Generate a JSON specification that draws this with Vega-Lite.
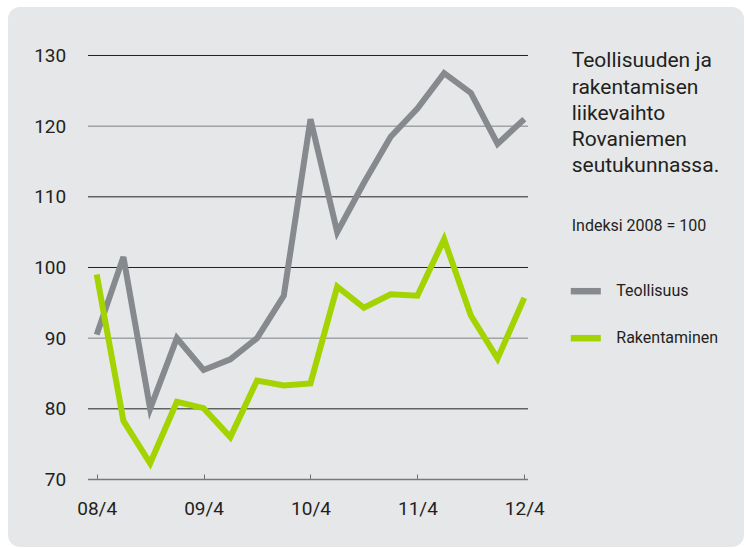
{
  "$schema": "https://vega.github.io/schema/vega-lite/v6.json",
  "width": 736,
  "height": 540,
  "autosize": {"type": "none"},
  "padding": {"left": 8, "top": 7, "right": 3, "bottom": 1},
  "background": "#ffffff",
  "config": {
    "view": {"fill": "#e6e7e9", "stroke": null, "cornerRadius": 12},
    "font": "Roboto, sans-serif"
  },
  "title": {
    "text": ["Teollisuuden ja", "rakentamisen", "liikevaihto", "Rovaniemen", "seutukunnassa."],
    "subtitle": "Indeksi 2008 = 100",
    "orient": "top",
    "anchor": "start",
    "frame": "group",
    "align": "left",
    "offset": 0,
    "dx": 563.7,
    "dy": 227,
    "fontSize": 21,
    "fontWeight": "normal",
    "color": "#231f20",
    "lineHeight": 26.3,
    "subtitleFontSize": 16,
    "subtitleColor": "#231f20",
    "subtitlePadding": 41.5
  },
  "datasets": {
    "sarjat": [
      {"q": 0, "kvartaali": "08/4", "sarja": "Teollisuus", "arvo": 90.5},
      {"q": 1, "kvartaali": "09/1", "sarja": "Teollisuus", "arvo": 101.5},
      {"q": 2, "kvartaali": "09/2", "sarja": "Teollisuus", "arvo": 80},
      {"q": 3, "kvartaali": "09/3", "sarja": "Teollisuus", "arvo": 90},
      {"q": 4, "kvartaali": "09/4", "sarja": "Teollisuus", "arvo": 85.5},
      {"q": 5, "kvartaali": "10/1", "sarja": "Teollisuus", "arvo": 87},
      {"q": 6, "kvartaali": "10/2", "sarja": "Teollisuus", "arvo": 90},
      {"q": 7, "kvartaali": "10/3", "sarja": "Teollisuus", "arvo": 96},
      {"q": 8, "kvartaali": "10/4", "sarja": "Teollisuus", "arvo": 121},
      {"q": 9, "kvartaali": "11/1", "sarja": "Teollisuus", "arvo": 105},
      {"q": 10, "kvartaali": "11/2", "sarja": "Teollisuus", "arvo": 112},
      {"q": 11, "kvartaali": "11/3", "sarja": "Teollisuus", "arvo": 118.5},
      {"q": 12, "kvartaali": "11/4", "sarja": "Teollisuus", "arvo": 122.5},
      {"q": 13, "kvartaali": "12/1", "sarja": "Teollisuus", "arvo": 127.5},
      {"q": 14, "kvartaali": "12/2", "sarja": "Teollisuus", "arvo": 124.7},
      {"q": 15, "kvartaali": "12/3", "sarja": "Teollisuus", "arvo": 117.5},
      {"q": 16, "kvartaali": "12/4", "sarja": "Teollisuus", "arvo": 121},
      {"q": 0, "kvartaali": "08/4", "sarja": "Rakentaminen", "arvo": 99},
      {"q": 1, "kvartaali": "09/1", "sarja": "Rakentaminen", "arvo": 78.3},
      {"q": 2, "kvartaali": "09/2", "sarja": "Rakentaminen", "arvo": 72.3},
      {"q": 3, "kvartaali": "09/3", "sarja": "Rakentaminen", "arvo": 81},
      {"q": 4, "kvartaali": "09/4", "sarja": "Rakentaminen", "arvo": 80.1},
      {"q": 5, "kvartaali": "10/1", "sarja": "Rakentaminen", "arvo": 76},
      {"q": 6, "kvartaali": "10/2", "sarja": "Rakentaminen", "arvo": 84},
      {"q": 7, "kvartaali": "10/3", "sarja": "Rakentaminen", "arvo": 83.3},
      {"q": 8, "kvartaali": "10/4", "sarja": "Rakentaminen", "arvo": 83.6},
      {"q": 9, "kvartaali": "11/1", "sarja": "Rakentaminen", "arvo": 97.3},
      {"q": 10, "kvartaali": "11/2", "sarja": "Rakentaminen", "arvo": 94.3},
      {"q": 11, "kvartaali": "11/3", "sarja": "Rakentaminen", "arvo": 96.2},
      {"q": 12, "kvartaali": "11/4", "sarja": "Rakentaminen", "arvo": 96},
      {"q": 13, "kvartaali": "12/1", "sarja": "Rakentaminen", "arvo": 104},
      {"q": 14, "kvartaali": "12/2", "sarja": "Rakentaminen", "arvo": 93.2},
      {"q": 15, "kvartaali": "12/3", "sarja": "Rakentaminen", "arvo": 87.1},
      {"q": 16, "kvartaali": "12/4", "sarja": "Rakentaminen", "arvo": 95.7}
    ],
    "grid": [{"v": 80}, {"v": 90}, {"v": 100}, {"v": 110}, {"v": 120}, {"v": 130}],
    "pohja": [{"v": 70}]
  },
  "layer": [
    {
      "data": {"name": "grid"},
      "mark": {"type": "rule", "strokeWidth": 1},
      "encoding": {
        "y": {
          "field": "v", "type": "quantitative",
          "scale": {"domain": [60.448, 136.863], "nice": false, "zero": false},
          "axis": {
            "orient": "left", "offset": -57.7, "values": [70, 80, 90, 100, 110, 120, 130],
            "domain": false, "grid": false, "ticks": false,
            "labelFontSize": 19, "labelColor": "#231f20", "labelPadding": 0, "title": null
          }
        },
        "x": {
          "datum": -0.326, "type": "quantitative",
          "scale": {"domain": [-3.319, 24.221], "nice": false, "zero": false},
          "axis": {
            "orient": "bottom", "offset": -68, "values": [0, 4, 8, 12, 16],
            "labelExpr": "['08/4','09/4','10/4','11/4','12/4'][datum.value / 4]",
            "domain": false, "grid": false, "ticks": true, "tickSize": -5, "tickColor": "#6f7072", "tickWidth": 1,
            "labelFontSize": 19, "labelColor": "#231f20", "labelPadding": 25, "title": null
          }
        },
        "x2": {"datum": 16.138},
        "color": {"condition": {"test": "datum.v == 90 || datum.v == 120", "value": "#7f8083"}, "value": "#222222"}
      }
    },
    {
      "data": {"name": "pohja"},
      "mark": {"type": "rule", "strokeWidth": 1.5, "color": "#77787a"},
      "encoding": {
        "y": {
          "field": "v", "type": "quantitative",
          "scale": {"domain": [60.448, 136.863], "nice": false, "zero": false},
          "axis": {
            "orient": "left", "offset": -57.7, "values": [70, 80, 90, 100, 110, 120, 130],
            "domain": false, "grid": false, "ticks": false,
            "labelFontSize": 19, "labelColor": "#231f20", "labelPadding": 0, "title": null
          }
        },
        "x": {
          "datum": -0.326, "type": "quantitative",
          "scale": {"domain": [-3.319, 24.221], "nice": false, "zero": false},
          "axis": {
            "orient": "bottom", "offset": -68, "values": [0, 4, 8, 12, 16],
            "labelExpr": "['08/4','09/4','10/4','11/4','12/4'][datum.value / 4]",
            "domain": false, "grid": false, "ticks": true, "tickSize": -5, "tickColor": "#6f7072", "tickWidth": 1,
            "labelFontSize": 19, "labelColor": "#231f20", "labelPadding": 25, "title": null
          }
        },
        "x2": {"datum": 16.138}
      }
    },
    {
      "data": {"name": "sarjat"},
      "mark": {"type": "line", "strokeWidth": 6},
      "encoding": {
        "x": {
          "field": "q", "type": "quantitative",
          "scale": {"domain": [-3.319, 24.221], "nice": false, "zero": false},
          "axis": {
            "orient": "bottom", "offset": -68, "values": [0, 4, 8, 12, 16],
            "labelExpr": "['08/4','09/4','10/4','11/4','12/4'][datum.value / 4]",
            "domain": false, "grid": false, "ticks": true, "tickSize": -5, "tickColor": "#6f7072", "tickWidth": 1,
            "labelFontSize": 19, "labelColor": "#231f20", "labelPadding": 25, "title": null
          }
        },
        "y": {
          "field": "arvo", "type": "quantitative",
          "scale": {"domain": [60.448, 136.863], "nice": false, "zero": false},
          "axis": {
            "orient": "left", "offset": -57.7, "values": [70, 80, 90, 100, 110, 120, 130],
            "domain": false, "grid": false, "ticks": false,
            "labelFontSize": 19, "labelColor": "#231f20", "labelPadding": 0, "title": null
          }
        },
        "color": {
          "field": "sarja", "type": "nominal",
          "scale": {"domain": ["Teollisuus", "Rakentaminen"], "range": ["#86898d", "#a3d300"]},
          "legend": {
            "orient": "none", "legendX": 559.3, "legendY": 265.7, "title": null,
            "symbolType": "stroke", "symbolSize": 900, "symbolStrokeWidth": 6.5,
            "labelFontSize": 16, "labelColor": "#231f20", "labelOffset": 12,
            "rowPadding": 15, "padding": 0
          }
        }
      }
    }
  ]
}
